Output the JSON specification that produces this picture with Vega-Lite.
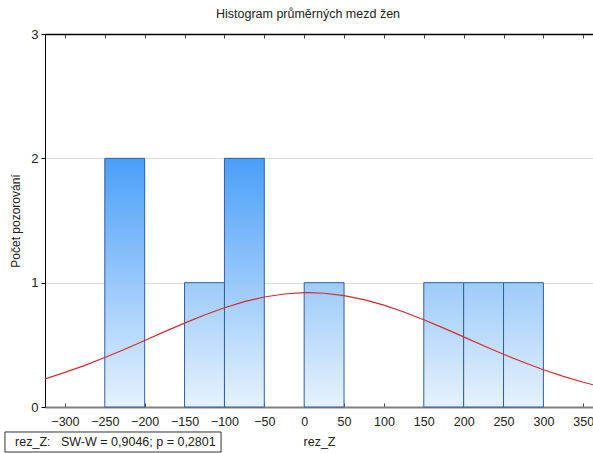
{
  "$schema": "https://vega.github.io/schema/vega-lite/v6.json",
  "width": 548,
  "height": 373,
  "autosize": {"type": "none"},
  "padding": {"left": 45, "top": 34, "right": 0, "bottom": 46},
  "background": "white",
  "config": {
    "font": "Liberation Sans",
    "view": {"stroke": null},
    "axis": {"labelFont": "Liberation Sans", "titleFont": "Liberation Sans", "labelColor": "#222", "titleColor": "#222", "titleFontWeight": "normal"}
  },
  "title": {
    "text": "Histogram průměrných mezd žen",
    "fontSize": 12.5,
    "fontWeight": "normal",
    "color": "#222",
    "anchor": "middle",
    "dx": -11,
    "offset": 8
  },
  "datasets": {
    "bins": [
      {"bin_start": -250, "bin_end": -200, "count": 2},
      {"bin_start": -150, "bin_end": -100, "count": 1},
      {"bin_start": -100, "bin_end": -50, "count": 2},
      {"bin_start": 0, "bin_end": 50, "count": 1},
      {"bin_start": 150, "bin_end": 200, "count": 1},
      {"bin_start": 200, "bin_end": 250, "count": 1},
      {"bin_start": 250, "bin_end": 300, "count": 1}
    ],
    "normal": [
      {"x": -325, "expected": 0.226},
      {"x": -300, "expected": 0.278},
      {"x": -275, "expected": 0.335},
      {"x": -250, "expected": 0.398},
      {"x": -225, "expected": 0.465},
      {"x": -200, "expected": 0.535},
      {"x": -175, "expected": 0.606},
      {"x": -150, "expected": 0.675},
      {"x": -125, "expected": 0.74},
      {"x": -100, "expected": 0.798},
      {"x": -75, "expected": 0.847},
      {"x": -50, "expected": 0.885},
      {"x": -25, "expected": 0.909},
      {"x": 0, "expected": 0.92},
      {"x": 5, "expected": 0.92},
      {"x": 25, "expected": 0.915},
      {"x": 50, "expected": 0.896},
      {"x": 75, "expected": 0.864},
      {"x": 100, "expected": 0.819},
      {"x": 125, "expected": 0.764},
      {"x": 150, "expected": 0.702},
      {"x": 175, "expected": 0.634},
      {"x": 200, "expected": 0.564},
      {"x": 225, "expected": 0.493},
      {"x": 250, "expected": 0.424},
      {"x": 275, "expected": 0.36},
      {"x": 300, "expected": 0.3},
      {"x": 325, "expected": 0.246},
      {"x": 350, "expected": 0.199},
      {"x": 375, "expected": 0.158}
    ]
  },
  "resolve": {"axis": {"x": "independent", "y": "independent"}},
  "layer": [
    {
      "data": {"name": "bins"},
      "transform": [{"filter": "datum.count == 2"}],
      "mark": {
        "type": "rect",
        "stroke": "#2f5f9e",
        "strokeWidth": 1,
        "fill": {"gradient": "linear", "x1": 0, "y1": 0, "x2": 0, "y2": 1, "stops": [{"offset": 0, "color": "#4a9ff8"}, {"offset": 1, "color": "#e6f2fe"}]}
      },
      "encoding": {
        "x": {
          "field": "bin_start", "type": "quantitative",
          "scale": {"domain": [-325, 362.2], "nice": false, "zero": false},
          "axis": {
            "orient": "bottom", "values": [-300, -250, -200, -150, -100, -50, 0, 50, 100, 150, 200, 250, 300, 350],
            "title": "rez_Z", "titleFontSize": 12.5, "titlePadding": 8,
            "labelFontSize": 12.5, "labelPadding": 12, "labelFlush": false,
            "domainColor": "#808080", "domainWidth": 2,
            "tickColor": "#444", "tickSize": -4, "grid": false
          }
        },
        "x2": {"field": "bin_end"},
        "y": {
          "field": "count", "type": "quantitative",
          "scale": {"domain": [0, 3], "nice": false},
          "axis": {
            "orient": "left", "values": [0, 1, 2, 3], "format": "d",
            "title": "Počet pozorování", "titleFontSize": 12, "titlePadding": 8,
            "labelFontSize": 13, "labelPadding": 3,
            "domainColor": "#000", "domainWidth": 1,
            "tickColor": "#000", "tickSize": 4,
            "grid": true, "gridColor": "#dcdcdc", "gridWidth": 1
          }
        },
        "y2": {"datum": 0}
      }
    },
    {
      "data": {"name": "bins"},
      "transform": [{"filter": "datum.count == 1"}],
      "mark": {
        "type": "rect",
        "stroke": "#2f5f9e",
        "strokeWidth": 1,
        "fill": {"gradient": "linear", "x1": 0, "y1": 0, "x2": 0, "y2": 1, "stops": [{"offset": 0, "color": "#9dcbfa"}, {"offset": 1, "color": "#e6f2fe"}]}
      },
      "encoding": {
        "x": {"field": "bin_start", "type": "quantitative", "scale": {"domain": [-325, 362.2], "nice": false, "zero": false}, "axis": null},
        "x2": {"field": "bin_end"},
        "y": {"field": "count", "type": "quantitative", "scale": {"domain": [0, 3], "nice": false}, "axis": null},
        "y2": {"datum": 0}
      }
    },
    {
      "data": {"name": "normal"},
      "mark": {"type": "line", "color": "#d42a34", "strokeWidth": 1.2, "clip": true},
      "encoding": {
        "x": {
          "field": "x", "type": "quantitative",
          "scale": {"domain": [-325, 362.2], "nice": false, "zero": false},
          "axis": {
            "orient": "top", "values": [-300, -250, -200, -150, -100, -50, 0, 50, 100, 150, 200, 250, 300, 350],
            "labels": false, "title": null, "grid": false,
            "domainColor": "#000", "domainWidth": 1.5,
            "tickColor": "#444", "tickSize": -4
          }
        },
        "y": {"field": "expected", "type": "quantitative", "scale": {"domain": [0, 3], "nice": false}, "axis": null}
      }
    },
    {
      "data": {"values": [{"label": "rez_Z:\u00a0\u00a0\u00a0SW-W = 0,9046; p = 0,2801"}]},
      "mark": {"type": "rect", "fill": "white", "stroke": "#333", "strokeWidth": 1, "clip": false},
      "encoding": {
        "x": {"datum": -375.2, "type": "quantitative", "scale": {"domain": [-325, 362.2], "nice": false, "zero": false}, "axis": null},
        "x2": {"datum": -104.2},
        "y": {"datum": -0.201, "type": "quantitative", "scale": {"domain": [0, 3], "nice": false}, "axis": null},
        "y2": {"datum": -0.362}
      }
    },
    {
      "data": {"values": [{"label": "rez_Z:\u00a0\u00a0\u00a0SW-W = 0,9046; p = 0,2801"}]},
      "mark": {"type": "text", "align": "left", "baseline": "middle", "fontSize": 12.5, "color": "#222", "clip": false},
      "encoding": {
        "x": {"datum": -362.5, "type": "quantitative", "scale": {"domain": [-325, 362.2], "nice": false, "zero": false}, "axis": null},
        "y": {"datum": -0.282, "type": "quantitative", "scale": {"domain": [0, 3], "nice": false}, "axis": null},
        "text": {"field": "label"}
      }
    }
  ]
}
